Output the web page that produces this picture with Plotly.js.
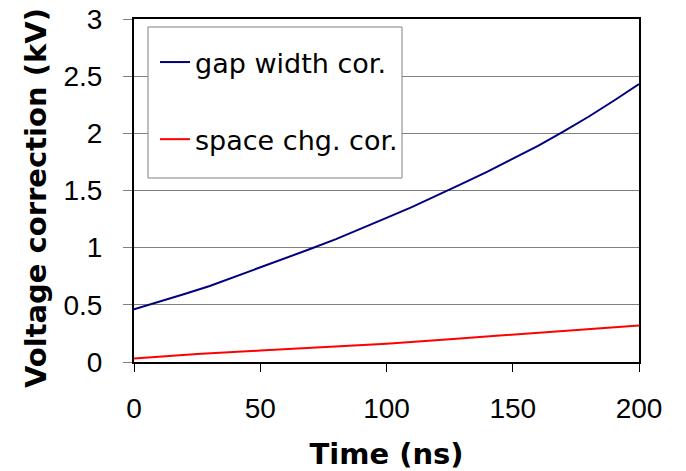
<!DOCTYPE html>
<html>
<head>
<meta charset="utf-8">
<script src="https://cdn.plot.ly/plotly-3.0.1.min.js"></script>
<style>html,body{margin:0;padding:0;background:#fff;}#chart{width:686px;height:471px;}</style>
</head>
<body>
<div id="chart"></div>
<script>
const timeGap = [0, 10, 20, 30, 40, 50, 60, 70, 80, 90, 100, 110, 120, 130, 140, 150, 160, 170, 180, 190, 200];
const gapWidthCor = [0.46, 0.525, 0.595, 0.665, 0.745, 0.825, 0.905, 0.99, 1.075, 1.165, 1.26, 1.355, 1.455, 1.56, 1.665, 1.775, 1.89, 2.015, 2.145, 2.285, 2.43];
const timeSpace = [0, 25, 50, 75, 100, 125, 150, 175, 200];
const spaceChgCor = [0.03, 0.07, 0.10, 0.13, 0.16, 0.20, 0.24, 0.28, 0.32];
const xTicks = [0, 50, 100, 150, 200];
const yTicks = [0, 0.5, 1, 1.5, 2, 2.5, 3];
const yTickText = ['0', '0.5', '1', '1.5', '2', '2.5', '3'];

const traces = [
  {x: timeGap, y: gapWidthCor, mode: 'lines', name: 'gap width cor.', legendgroup: 'a',
   line: {color: '#000080', width: 2}},
  {x: timeSpace, y: spaceChgCor, mode: 'lines', name: 'space chg. cor.', legendgroup: 'b',
   line: {color: '#ff0000', width: 2}}
];

const layout = {
  width: 686, height: 471,
  margin: {l: 134, r: 47, t: 19, b: 109},
  paper_bgcolor: '#fff', plot_bgcolor: '#fff',
  showlegend: true,
  shapes: [{
    type: 'rect', xref: 'paper', yref: 'paper', layer: 'above',
    x0: 0.0277, x1: 0.5307, y0: 0.5364, y1: 0.9767,
    line: {color: '#808080', width: 1}, fillcolor: '#ffffff'
  }],
  annotations: [{
    text: 'Voltage correction (kV)', textangle: -90, showarrow: false,
    xref: 'paper', yref: 'paper', x: -0.194, y: 0.478, xanchor: 'center', yanchor: 'middle',
    font: {family: 'DejaVu Sans', size: 29, color: '#000', weight: 'bold'}
  }],
  legend: {
    x: 0.0416, y: 0.9446, xanchor: 'left', yanchor: 'top',
    bgcolor: 'rgba(0,0,0,0)', borderwidth: 0,
    font: {family: 'DejaVu Sans', size: 27, color: '#000'},
    traceorder: 'grouped', tracegroupgap: 39
  },
  xaxis: {
    range: [0, 200], tickvals: xTicks, ticktext: xTicks.map(String),
    showgrid: false, zeroline: false,
    showline: true, linecolor: '#000', linewidth: 2, mirror: true,
    ticks: 'outside', ticklen: 8, tickcolor: '#000', tickwidth: 1,
    ticklabelstandoff: 12,
    tickfont: {family: 'Liberation Sans', size: 28, color: '#000'},
    title: {text: 'Time (ns)', font: {family: 'DejaVu Sans', size: 29, color: '#000', weight: 'bold'}, standoff: 23}
  },
  yaxis: {
    range: [0, 3], tickvals: yTicks, ticktext: yTickText,
    showgrid: true, gridcolor: '#808080', gridwidth: 1, zeroline: false,
    showline: true, linecolor: '#000', linewidth: 2, mirror: true,
    ticks: 'outside', ticklen: 9, tickcolor: '#808080', tickwidth: 1,
    ticklabelstandoff: 15,
    tickfont: {family: 'Liberation Sans', size: 28, color: '#000'}
  }
};

Plotly.newPlot('chart', traces, layout, {displayModeBar: false, staticPlot: true});
</script>
</body>
</html>
